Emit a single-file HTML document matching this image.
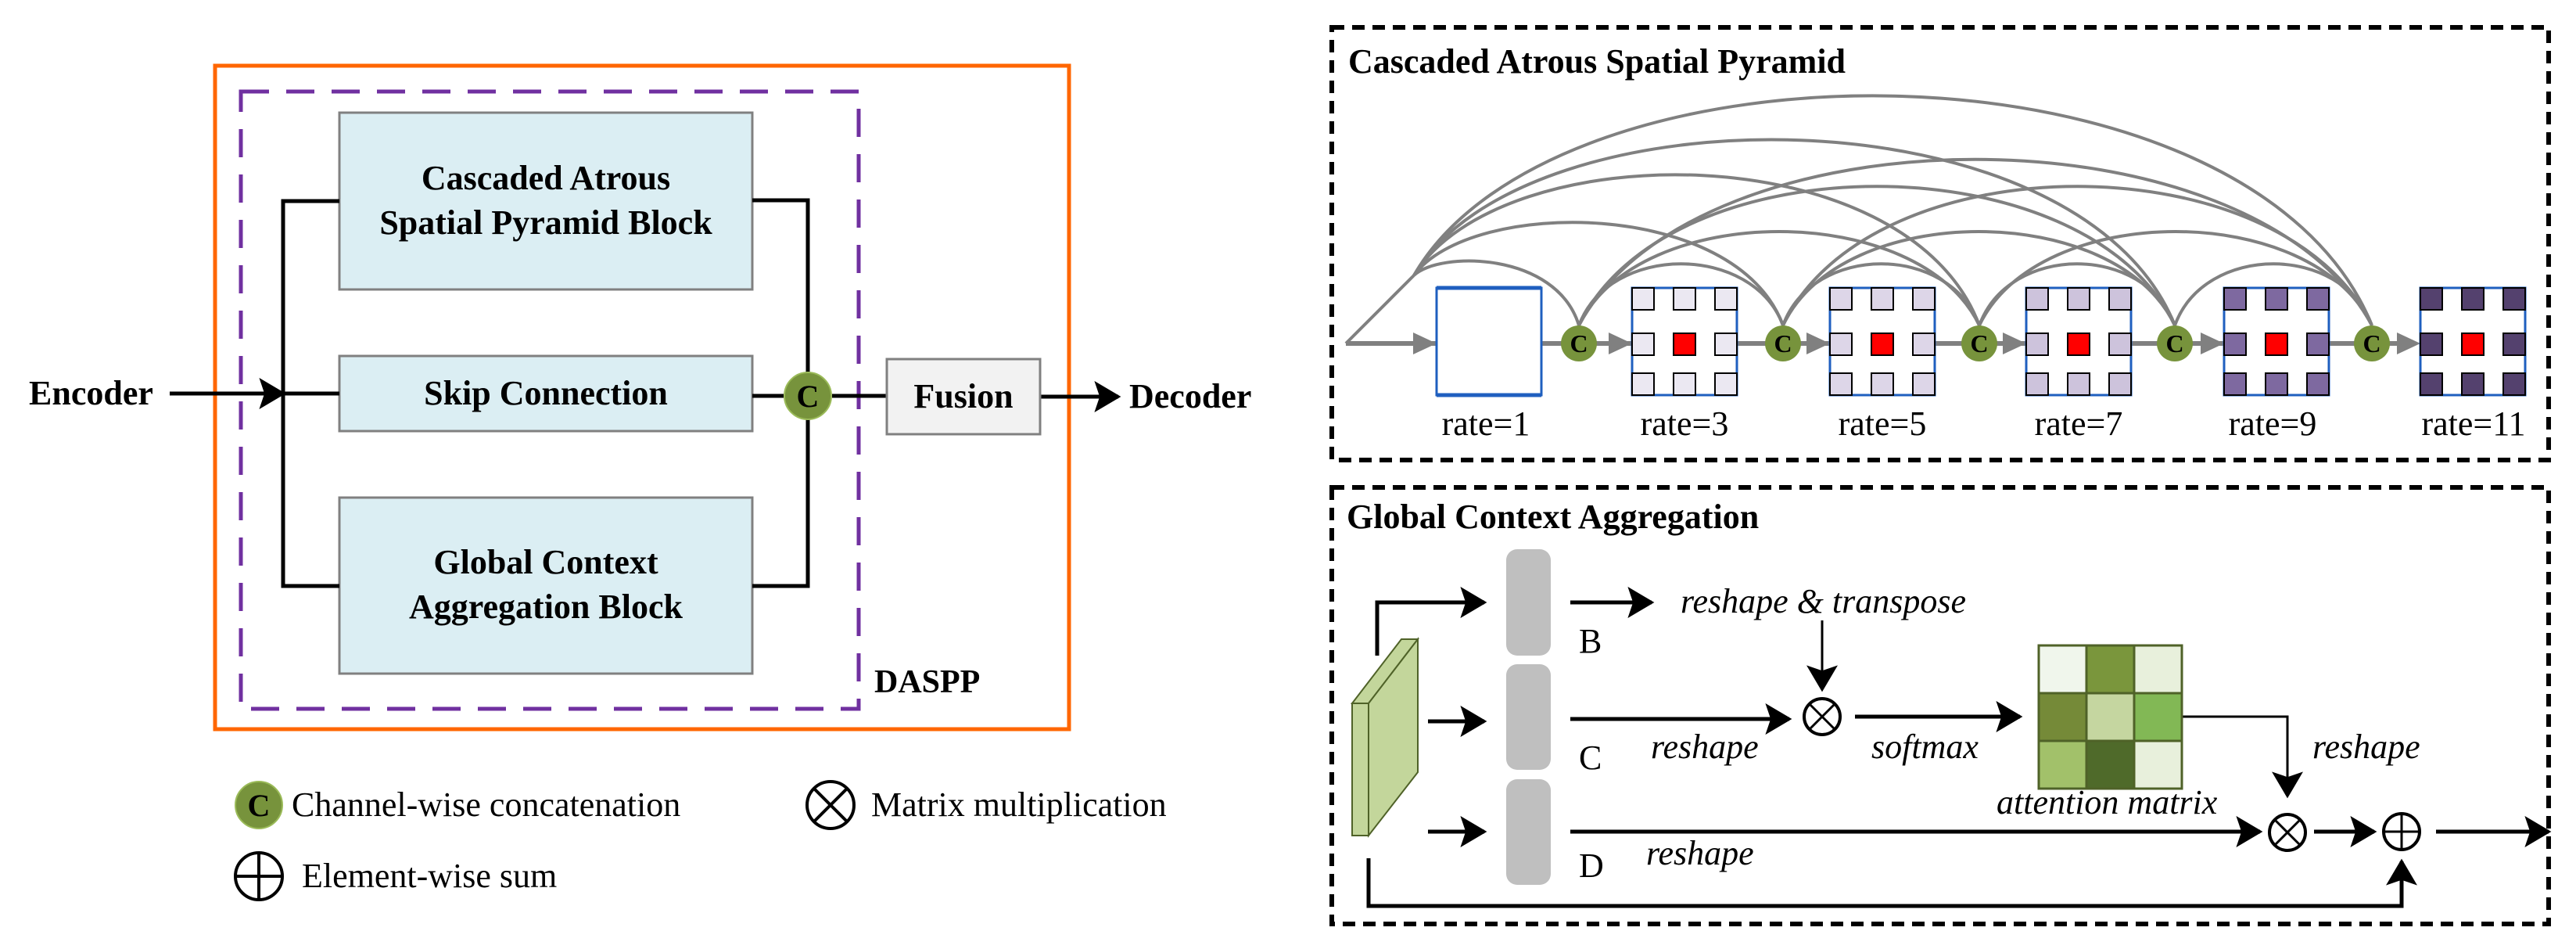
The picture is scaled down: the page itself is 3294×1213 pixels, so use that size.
<!DOCTYPE html>
<html><head><meta charset="utf-8"><style>
html,body{margin:0;padding:0;background:#fff}
svg{display:block}
text{font-family:"Liberation Serif",serif}
.b{font-weight:bold}
.i{font-style:italic}
</style></head><body>
<svg width="3294" height="1213" viewBox="0 0 3294 1213" xmlns="http://www.w3.org/2000/svg">
<defs>
<marker id="ab" markerWidth="10" markerHeight="10" refX="9" refY="5" orient="auto" markerUnits="userSpaceOnUse" viewBox="0 0 10 10"><path d="M0,0 L10,5 L0,10 L3,5 z" fill="#000"/></marker>
<marker id="abig" viewBox="0 0 10 10" refX="9" refY="5" markerWidth="34" markerHeight="40" orient="auto" markerUnits="userSpaceOnUse" preserveAspectRatio="none"><path d="M0,0 L10,5 L0,10 L2,5 z" fill="#000"/></marker>
</defs>

<!-- LEFT PANEL -->
<rect x="275" y="84" width="1092" height="848" fill="none" stroke="#ff6600" stroke-width="5"/>
<rect x="308" y="117" width="790" height="789" fill="none" stroke="#7030a0" stroke-width="5" stroke-dasharray="36,22"/>
<rect x="434" y="144" width="528" height="226" fill="#dbeef3" stroke="#808080" stroke-width="3"/>
<rect x="434" y="455" width="528" height="96" fill="#dbeef3" stroke="#808080" stroke-width="3"/>
<rect x="434" y="636" width="528" height="225" fill="#dbeef3" stroke="#808080" stroke-width="3"/>
<text class="b" x="698" y="242" font-size="44" text-anchor="middle">Cascaded Atrous</text>
<text class="b" x="698" y="299" font-size="44" text-anchor="middle">Spatial Pyramid Block</text>
<text class="b" x="698" y="517" font-size="44" text-anchor="middle">Skip Connection</text>
<text class="b" x="698" y="733" font-size="44" text-anchor="middle">Global Context</text>
<text class="b" x="698" y="790" font-size="44" text-anchor="middle">Aggregation Block</text>
<g stroke="#000" stroke-width="5" fill="none">
<polyline points="434,257 362,257 362,749 434,749"/>
<line x1="362" y1="503" x2="434" y2="503"/>
<polyline points="962,256 1033,256 1033,749 962,749"/>
<line x1="962" y1="506" x2="1002" y2="506"/>
<line x1="1064" y1="506" x2="1134" y2="506"/>
<line x1="217" y1="503" x2="362" y2="503" marker-end="url(#abig)"/>
<line x1="1330" y1="507" x2="1430" y2="507" marker-end="url(#abig)"/>
</g>
<text class="b" x="37" y="517" font-size="44">Encoder</text>
<circle cx="1033" cy="506" r="30" fill="#77933c" stroke="#9bbb59" stroke-width="2"/>
<text class="b" x="1033" y="520" font-size="40" text-anchor="middle">C</text>
<rect x="1134" y="459" width="196" height="96" fill="#f2f2f2" stroke="#808080" stroke-width="3"/>
<text class="b" x="1232" y="521" font-size="44" text-anchor="middle">Fusion</text>
<text class="b" x="1444" y="521" font-size="44">Decoder</text>
<text class="b" x="1118" y="885" font-size="42">DASPP</text>

<!-- legend -->
<circle cx="331" cy="1029" r="30" fill="#77933c" stroke="#9bbb59" stroke-width="2"/>
<text class="b" x="331" y="1043" font-size="40" text-anchor="middle">C</text>
<text x="373" y="1043" font-size="44">Channel-wise concatenation</text>
<g stroke="#000" stroke-width="4" fill="none">
<circle cx="1062" cy="1029" r="30"/>
<line x1="1041" y1="1008" x2="1083" y2="1050"/><line x1="1083" y1="1008" x2="1041" y2="1050"/>
<circle cx="331" cy="1120" r="30"/>
<line x1="301" y1="1120" x2="361" y2="1120"/><line x1="331" y1="1090" x2="331" y2="1150"/>
</g>
<text x="1114" y="1043" font-size="44">Matrix multiplication</text>
<text x="386" y="1134" font-size="44">Element-wise sum</text>

<!-- RIGHT TOP PANEL -->
<rect x="1703" y="35" width="1556" height="553" fill="none" stroke="#000" stroke-width="6" stroke-dasharray="16,10"/>
<text class="b" x="1724" y="93" font-size="44">Cascaded Atrous Spatial Pyramid</text>

<g stroke="#808080" stroke-width="4" fill="none">
<line x1="1721" y1="439" x2="1808" y2="352"/>
<line x1="1721" y1="439" x2="3080" y2="439" stroke-width="6"/>
<path d="M1808,352 C1840,321 1990,321 2019,416"/>
<path d="M1808,352 C1880,253 2220,253 2280,416"/>
<path d="M1808,352 C1920,171 2440,171 2531,416"/>
<path d="M1808,352 C1950,111 2660,111 2781,416"/>
<path d="M1808,352 C1990,36 2880,36 3033,416"/>
<path d="M2019,416 C2058,311 2241,311 2280,416"/>
<path d="M2280,416 C2318,311 2493,311 2531,416"/>
<path d="M2531,416 C2569,311 2743,311 2781,416"/>
<path d="M2781,416 C2819,311 2995,311 3033,416"/>
<path d="M2019,416 C2095,256 2455,256 2531,416"/>
<path d="M2280,416 C2355,256 2706,256 2781,416"/>
<path d="M2531,416 C2607,256 2957,256 3033,416"/>
<path d="M2019,416 C2132,179 2668,179 2781,416"/>
<path d="M2280,416 C2393,179 2920,179 3033,416"/>
<path d="M2019,416 C2170,133 2882,133 3033,416"/>
</g>
<g fill="#808080">
<polygon points="1807,425 1837,439 1807,453"/>
<polygon points="2057,425 2087,439 2057,453"/>
<polygon points="2310,425 2340,439 2310,453"/>
<polygon points="2561,425 2591,439 2561,453"/>
<polygon points="2814,425 2844,439 2814,453"/>
<polygon points="3065,425 3095,439 3065,453"/>
</g>
<g fill="#77933c">
<circle cx="2019" cy="439" r="23"/><circle cx="2280" cy="439" r="23"/><circle cx="2531" cy="439" r="23"/><circle cx="2781" cy="439" r="23"/><circle cx="3033" cy="439" r="23"/>
</g>
<g font-size="32" text-anchor="middle" class="b">
<text x="2019" y="450">C</text><text x="2280" y="450">C</text><text x="2531" y="450">C</text><text x="2781" y="450">C</text><text x="3033" y="450">C</text>
</g>

<!-- grids -->
<rect x="1837" y="368" width="134" height="137" fill="#fff" stroke="#1f5fbf" stroke-width="3"/>
<line x1="1837" y1="368" x2="1971" y2="368" stroke="#1f5fbf" stroke-width="5"/>
<line x1="1837" y1="505" x2="1971" y2="505" stroke="#1f5fbf" stroke-width="5"/>

<g id="g3">
<rect x="2087" y="368" width="134" height="137" fill="#fff" stroke="#1f5fbf" stroke-width="3"/>
<g fill="#ebe8f2" stroke="#000" stroke-width="2">
<rect x="2087" y="368" width="28" height="28"/><rect x="2140" y="368" width="28" height="28"/><rect x="2193" y="368" width="28" height="28"/>
<rect x="2087" y="426" width="28" height="28"/><rect x="2193" y="426" width="28" height="28"/>
<rect x="2087" y="477" width="28" height="28"/><rect x="2140" y="477" width="28" height="28"/><rect x="2193" y="477" width="28" height="28"/>
</g><rect x="2140" y="426" width="28" height="28" fill="#f00" stroke="#000" stroke-width="2"/>
</g>
<g transform="translate(253,0)">
<rect x="2087" y="368" width="134" height="137" fill="#fff" stroke="#1f5fbf" stroke-width="3"/>
<g fill="#ddd6e8" stroke="#000" stroke-width="2">
<rect x="2087" y="368" width="28" height="28"/><rect x="2140" y="368" width="28" height="28"/><rect x="2193" y="368" width="28" height="28"/>
<rect x="2087" y="426" width="28" height="28"/><rect x="2193" y="426" width="28" height="28"/>
<rect x="2087" y="477" width="28" height="28"/><rect x="2140" y="477" width="28" height="28"/><rect x="2193" y="477" width="28" height="28"/>
</g><rect x="2140" y="426" width="28" height="28" fill="#f00" stroke="#000" stroke-width="2"/>
</g>
<g transform="translate(504,0)">
<rect x="2087" y="368" width="134" height="137" fill="#fff" stroke="#1f5fbf" stroke-width="3"/>
<g fill="#cdc3dc" stroke="#000" stroke-width="2">
<rect x="2087" y="368" width="28" height="28"/><rect x="2140" y="368" width="28" height="28"/><rect x="2193" y="368" width="28" height="28"/>
<rect x="2087" y="426" width="28" height="28"/><rect x="2193" y="426" width="28" height="28"/>
<rect x="2087" y="477" width="28" height="28"/><rect x="2140" y="477" width="28" height="28"/><rect x="2193" y="477" width="28" height="28"/>
</g><rect x="2140" y="426" width="28" height="28" fill="#f00" stroke="#000" stroke-width="2"/>
</g>
<g transform="translate(757,0)">
<rect x="2087" y="368" width="134" height="137" fill="#fff" stroke="#1f5fbf" stroke-width="3"/>
<g fill="#7e69a0" stroke="#000" stroke-width="2">
<rect x="2087" y="368" width="28" height="28"/><rect x="2140" y="368" width="28" height="28"/><rect x="2193" y="368" width="28" height="28"/>
<rect x="2087" y="426" width="28" height="28"/><rect x="2193" y="426" width="28" height="28"/>
<rect x="2087" y="477" width="28" height="28"/><rect x="2140" y="477" width="28" height="28"/><rect x="2193" y="477" width="28" height="28"/>
</g><rect x="2140" y="426" width="28" height="28" fill="#f00" stroke="#000" stroke-width="2"/>
</g>
<g transform="translate(1008,0)">
<rect x="2087" y="368" width="134" height="137" fill="#fff" stroke="#1f5fbf" stroke-width="3"/>
<g fill="#54416e" stroke="#000" stroke-width="2">
<rect x="2087" y="368" width="28" height="28"/><rect x="2140" y="368" width="28" height="28"/><rect x="2193" y="368" width="28" height="28"/>
<rect x="2087" y="426" width="28" height="28"/><rect x="2193" y="426" width="28" height="28"/>
<rect x="2087" y="477" width="28" height="28"/><rect x="2140" y="477" width="28" height="28"/><rect x="2193" y="477" width="28" height="28"/>
</g><rect x="2140" y="426" width="28" height="28" fill="#f00" stroke="#000" stroke-width="2"/>
</g>
<g font-size="44" text-anchor="middle">
<text x="1900" y="556">rate=1</text><text x="2154" y="556">rate=3</text><text x="2407" y="556">rate=5</text><text x="2658" y="556">rate=7</text><text x="2906" y="556">rate=9</text><text x="3163" y="556">rate=11</text>
</g>

<!-- RIGHT BOTTOM PANEL -->
<rect x="1703" y="623" width="1556" height="558" fill="none" stroke="#000" stroke-width="6" stroke-dasharray="16,10"/>
<text class="b" x="1722" y="675" font-size="44">Global Context Aggregation</text>

<polygon points="1729,899 1792,817 1813,817 1750,899" fill="#c3d69b" stroke="#4f6228" stroke-width="2"/>
<polygon points="1750,899 1813,817 1813,987 1750,1068" fill="#c3d69b" stroke="#4f6228" stroke-width="2"/>
<rect x="1729" y="899" width="21" height="169" fill="#c3d69b" stroke="#4f6228" stroke-width="2"/>

<g fill="#bfbfbf">
<rect x="1926" y="702" width="57" height="136" rx="14"/>
<rect x="1926" y="849" width="57" height="135" rx="14"/>
<rect x="1926" y="996" width="57" height="135" rx="14"/>
</g>
<g font-size="44">
<text x="2019" y="834">B</text><text x="2019" y="983">C</text><text x="2019" y="1121">D</text>
</g>

<g stroke="#000" stroke-width="5" fill="none" marker-end="url(#abig)">
<polyline points="1761,838 1761,770 1898,770"/>
<line x1="2008" y1="770" x2="2112" y2="770"/>
<line x1="1826" y1="922" x2="1898" y2="922"/>
<line x1="1826" y1="1063" x2="1898" y2="1063"/>
<line x1="2008" y1="919" x2="2288" y2="919"/>
<line x1="2372" y1="916" x2="2583" y2="916"/>
<line x1="2008" y1="1063" x2="2890" y2="1063"/>
<line x1="2959" y1="1063" x2="3036" y2="1063"/>
<line x1="3115" y1="1063" x2="3259" y2="1063"/>
<polyline points="1750,1097 1750,1158 3071,1158 3071,1101"/>
</g>
<g stroke="#000" stroke-width="3" fill="none" marker-end="url(#abig)">
<line x1="2330" y1="793" x2="2330" y2="881"/>
<polyline points="2790,916 2925,916 2925,1017"/>
</g>
<g font-size="44" class="i">
<text x="2149" y="783">reshape &amp; transpose</text>
<text x="2111" y="969">reshape</text>
<text x="2393" y="969">softmax</text>
<text x="2957" y="969">reshape</text>
<text x="2553" y="1040">attention matrix</text>
<text x="2105" y="1105">reshape</text>
</g>

<g stroke="#000" stroke-width="4" fill="#fff">
<circle cx="2330" cy="916" r="23"/>
<circle cx="2925" cy="1064" r="23"/>
<circle cx="3071" cy="1063" r="23"/>
</g>
<g stroke="#000" stroke-width="3">
<line x1="2314" y1="900" x2="2346" y2="932"/><line x1="2346" y1="900" x2="2314" y2="932"/>
<line x1="2909" y1="1048" x2="2941" y2="1080"/><line x1="2941" y1="1048" x2="2909" y2="1080"/>
<line x1="3048" y1="1063" x2="3094" y2="1063"/><line x1="3071" y1="1040" x2="3071" y2="1086"/>
</g>

<g stroke="#4f6228" stroke-width="3">
<rect x="2607" y="825" width="61" height="61" fill="#f0f6ec"/>
<rect x="2668" y="825" width="61" height="61" fill="#7a963c"/>
<rect x="2729" y="825" width="61" height="61" fill="#e8f0dc"/>
<rect x="2607" y="886" width="61" height="61" fill="#758a38"/>
<rect x="2668" y="886" width="61" height="61" fill="#c5d6a0"/>
<rect x="2729" y="886" width="61" height="61" fill="#82b855"/>
<rect x="2607" y="947" width="61" height="61" fill="#a2c16a"/>
<rect x="2668" y="947" width="61" height="61" fill="#4f6a2a"/>
<rect x="2729" y="947" width="61" height="61" fill="#e8f0dc"/>
</g>
</svg>
</body></html>
